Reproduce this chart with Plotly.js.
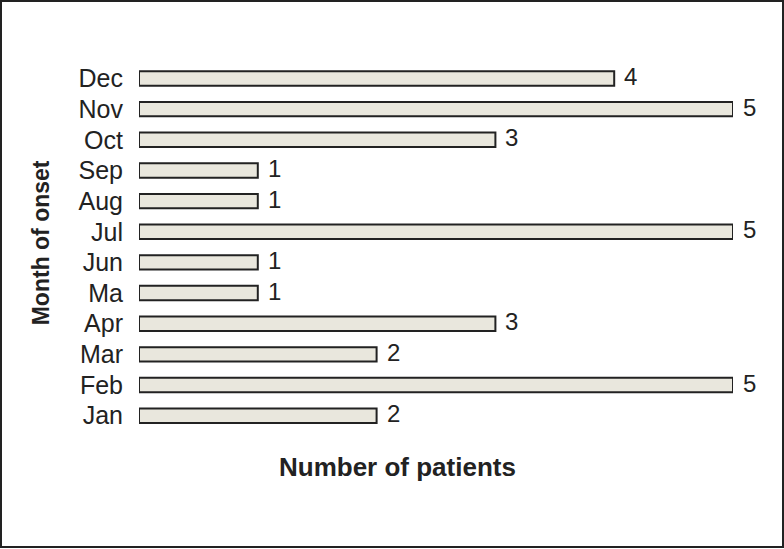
<!DOCTYPE html>
<html>
<head>
<meta charset="utf-8">
<script src="https://cdn.plot.ly/plotly-3.0.1.min.js"></script>
<style>
  html, body { margin: 0; padding: 0; background: #fff; }
  #wrap { position: relative; width: 784px; height: 549px; }
  #chart { width: 784px; height: 549px; }
  #frame { position: absolute; left: 0; top: 0; width: 784px; height: 548px;
           box-sizing: border-box; border: 2px solid #222; pointer-events: none; }
</style>
</head>
<body>
<div id="wrap">
  <div id="chart"></div>
  <div id="frame"></div>
</div>
<script>
/* ---- data ---- */
const MONTHS = ['Jan', 'Feb', 'Mar', 'Apr', 'Ma', 'Jun', 'Jul', 'Aug', 'Sep', 'Oct', 'Nov', 'Dec'];
const PATIENTS = [2, 5, 2, 3, 1, 1, 5, 1, 1, 3, 5, 4];

const FONT = 'Liberation Sans, Arial, sans-serif';
const INK = '#222';

const barTrace = {
  type: 'bar',
  orientation: 'h',
  y: MONTHS,
  x: PATIENTS,
  width: 0.47,
  marker: { color: '#e9e7dd', line: { color: INK, width: 2 } },
  hoverinfo: 'none',
};

// value labels just to the right of each bar
const valueLabels = MONTHS.map((m, i) => ({
  x: PATIENTS[i], y: m, xref: 'x', yref: 'y',
  text: String(PATIENTS[i]),
  showarrow: false, xanchor: 'left', yanchor: 'middle',
  xshift: 8, yshift: 2,
  font: { family: FONT, size: 24, color: INK },
}));

const layout = {
  width: 784,
  height: 549,
  paper_bgcolor: '#fff',
  plot_bgcolor: '#fff',
  showlegend: false,
  margin: { l: 139, r: 51, t: 61, b: 118 },
  font: { family: FONT, color: INK },
  xaxis: {
    range: [0, 5],
    showgrid: false, zeroline: false, showline: false,
    showticklabels: false, ticks: '',
  },
  yaxis: {
    type: 'category',
    categoryorder: 'array',
    categoryarray: MONTHS,
    showgrid: false, zeroline: false, showline: false,
    ticks: '',
    ticklabelstandoff: 15,
    tickfont: { family: FONT, size: 25, color: INK },
  },
  annotations: [
    ...valueLabels,
    {
      text: '<b>Number of patients</b>',
      xref: 'paper', yref: 'paper', x: 0.436, y: -0.05,
      xanchor: 'center', yanchor: 'top', showarrow: false,
      font: { family: FONT, size: 26, color: INK },
    },
    {
      text: '<b>Month of onset</b>',
      xref: 'paper', yref: 'paper', x: -0.165, y: 0.51,
      xanchor: 'center', yanchor: 'middle', textangle: -90, showarrow: false,
      font: { family: FONT, size: 23, color: INK },
    },
  ],
};

Plotly.newPlot('chart', [barTrace], layout, { displayModeBar: false, staticPlot: true });
</script>
</body>
</html>
